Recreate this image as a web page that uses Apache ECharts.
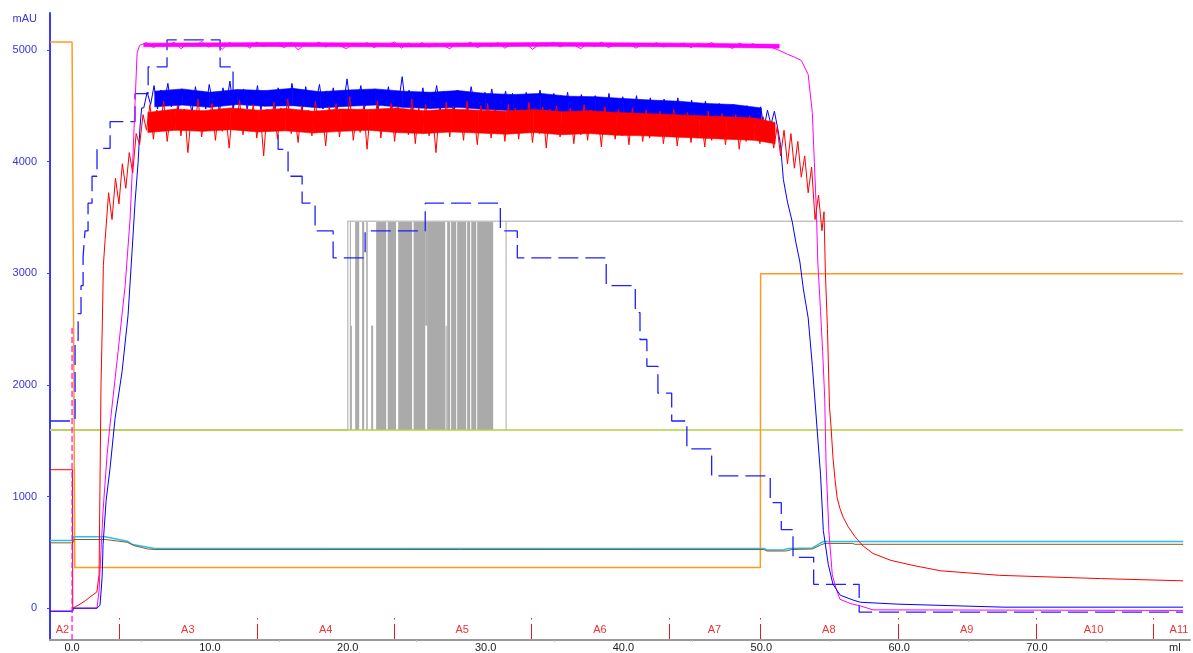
<!DOCTYPE html>
<html>
<head>
<meta charset="utf-8">
<script src="https://cdn.jsdelivr.net/npm/echarts@6.0.0/dist/echarts.min.js"></script>
<style>
html, body { margin: 0; padding: 0; background: #fff; }
#chart { width: 1193px; height: 653px; }
</style>
</head>
<body>
<div id="chart"></div>
<script>
// axis range and tick labels
const X_MIN = -1.6, X_MAX = 81.1
const Y_MIN = -285, Y_MAX = 5330
const xTickValues = [0, 10, 20, 30, 40, 50, 60, 70, 80]
const xMinorTicks = [5, 15, 25, 35, 45, 55, 65, 75]
const yTickValues = [0, 1000, 2000, 3000, 4000, 5000]

// fractions
const fracTicks = [3.41, 13.43, 23.37, 33.3, 43.3, 49.93, 59.94, 69.96, 78.45]
const fracNames = ['A2', 'A3', 'A4', 'A5', 'A6', 'A7', 'A8', 'A9', 'A10', 'A11']
const fracLabelX = [-0.7, 8.4, 18.4, 28.3, 38.3, 46.6, 54.9, 64.9, 74.1, 80.3]
const injectionMark = [[0, Y_MIN], [0, 2530]]

// UV blue (solid): start, noisy plateau (5.2 ml, every 0.25 ml), decline
const blueHead = [[-1.6, -27], [0.05, -27], [0.07, 0], [1.81, 0], [2.03, 27], [2.18, 276], [2.25, 570], [2.47, 962], [2.76, 1257], [3.12, 1700], [3.63, 2120], [4.06, 2620], [4.35, 3190], [4.57, 3636], [4.79, 3990], [4.93, 4310], [5.05, 4480]]
const bluePlateau = [
  4480, 4620, 4510, 4680, 4470, 4640, 4530, 4700, 4490, 4610,
  4460, 4650, 4520, 4590, 4440, 4670, 4500, 4630, 4470, 4690,
  4530, 4600, 4450, 4660, 4510, 4720, 4480, 4620, 4540, 4650,
  4470, 4610, 4500, 4680, 4460, 4630, 4520, 4600, 4440, 4660,
  4510, 4640, 4480, 4700, 4530, 4610, 4460, 4670, 4500, 4620,
  4540, 4690, 4470, 4630, 4510, 4660, 4450, 4610, 4520, 4740,
  4490, 4620, 4530, 4680, 4470, 4600, 4510, 4650, 4460, 4630,
  4500, 4670, 4480, 4610, 4540, 4760, 4490, 4640, 4450, 4620,
  4510, 4660, 4470, 4600, 4520, 4680, 4460, 4630, 4500, 4590,
  4440, 4640, 4490, 4610, 4460, 4670, 4510, 4600, 4450, 4620,
  4480, 4650, 4430, 4590, 4500, 4630, 4460, 4610, 4420, 4580,
  4470, 4620, 4440, 4600, 4490, 4640, 4430, 4570, 4480, 4610,
  4420, 4590, 4460, 4620, 4410, 4580, 4470, 4600, 4430, 4560,
  4400, 4590, 4450, 4570, 4420, 4610, 4380, 4550, 4440, 4580,
  4390, 4560, 4430, 4590, 4370, 4540, 4420, 4570, 4360, 4530,
  4410, 4560, 4350, 4520, 4400, 4570, 4340, 4510, 4390, 4550,
  4330, 4500, 4380, 4540, 4320, 4490, 4370, 4520, 4310, 4480,
  4360, 4510, 4300, 4480, 4350, 4500, 4320, 4470, 4340, 4490,
  4300, 4460, 4330, 4450, 4290
]
const blueTail = [[51.4, 4150], [51.5, 3990], [51.6, 3840], [51.9, 3636], [52.25, 3458], [52.5, 3280], [52.8, 3100], [53.05, 2860], [53.4, 2600], [53.7, 2175], [54.06, 1586], [54.3, 1194], [54.5, 695], [54.86, 392], [55.2, 214], [55.73, 116], [56.7, 71], [57.2, 53], [59.9, 36], [67.6, 9], [80.6, 9]]
// dense core of the blue noise band, every 2 ml
const blueBandX = [6, 8, 10, 12, 14, 16, 18, 20, 22, 24, 26, 28, 30, 32, 34, 36, 38, 40, 42, 44, 46, 48, 50]
const blueBandHi = [4630, 4650, 4620, 4645, 4635, 4655, 4625, 4640, 4650, 4630, 4620, 4635, 4610, 4600, 4610, 4585, 4580, 4565, 4550, 4540, 4520, 4510, 4480]
const blueBandLo = [4490, 4505, 4485, 4510, 4495, 4500, 4480, 4495, 4505, 4485, 4475, 4485, 4465, 4455, 4460, 4440, 4435, 4415, 4405, 4390, 4375, 4365, 4340]

// red: start, noisy part (2.4 ml, every 0.25 ml), tail
const redHead = [[-1.6, 1240], [0.03, 1240], [0.05, 0], [0.5, 30], [1.0, 70], [1.3, 100], [1.8, 145], [1.96, 300], [2.1, 2000], [2.2, 2570], [2.27, 3070]]
const redNoisy = [
  3300, 3720, 3480, 3850, 3620, 3980, 3760, 4080, 3900, 4250,
  4150, 4420, 4280, 4510, 4200, 4460, 4330, 4540, 4180, 4430,
  4290, 4500, 4230, 4470, 4080, 4410, 4310, 4560, 4220, 4450,
  4340, 4520, 4190, 4480, 4270, 4430, 4120, 4490, 4300, 4550,
  4240, 4460, 4330, 4510, 4210, 4440, 4050, 4470, 4290, 4530,
  4200, 4480, 4320, 4560, 4250, 4420, 4170, 4500, 4310, 4460,
  4230, 4540, 4280, 4450, 4140, 4490, 4340, 4520, 4220, 4470,
  4300, 4580, 4190, 4430, 4260, 4500, 4110, 4470, 4320, 4540,
  4210, 4460, 4290, 4520, 4180, 4490, 4330, 4450, 4240, 4560,
  4160, 4480, 4300, 4510, 4230, 4440, 4080, 4470, 4280, 4530,
  4220, 4490, 4310, 4460, 4190, 4540, 4270, 4430, 4150, 4500,
  4290, 4520, 4210, 4470, 4330, 4450, 4180, 4510, 4260, 4480,
  4200, 4460, 4300, 4530, 4170, 4440, 4250, 4490, 4120, 4470,
  4280, 4500, 4220, 4430, 4310, 4480, 4160, 4450, 4240, 4510,
  4190, 4460, 4270, 4420, 4130, 4490, 4260, 4440, 4200, 4470,
  4230, 4430, 4150, 4480, 4270, 4420, 4180, 4460, 4210, 4400,
  4250, 4450, 4160, 4410, 4220, 4470, 4140, 4390, 4230, 4440,
  4170, 4420, 4210, 4380, 4130, 4450, 4190, 4400, 4240, 4430,
  4150, 4390, 4200, 4420, 4110, 4380, 4180, 4410, 4230, 4360,
  4160, 4400, 4190, 4350, 4120, 4310, 4050, 4280, 3980, 4250,
  3940, 4180, 3860, 4050, 3720, 3950, 3480, 3700, 3380
]
const redTail = [[54.55, 3550], [54.65, 3000], [54.8, 2504], [54.95, 1800], [55.05, 1640], [55.2, 1350], [55.35, 1150], [55.5, 990], [55.7, 895], [55.95, 811], [56.3, 730], [56.8, 640], [57.4, 555], [58.1, 490], [59.4, 428], [61.0, 383], [63.0, 335], [67.3, 294], [74.6, 265], [80.6, 245]]
// dense core of the red noise band
const redBandX = [5.5, 7.5, 9.5, 11.5, 13.5, 15.5, 17.5, 19.5, 21.5, 23.5, 25.5, 27.5, 29.5, 31.5, 33.5, 35.5, 37.5, 39.5, 41.5, 43.5, 45.5, 47.5, 49.5, 51]
const redBandHi = [4440, 4470, 4455, 4480, 4460, 4475, 4450, 4470, 4465, 4480, 4455, 4470, 4460, 4450, 4465, 4445, 4455, 4440, 4430, 4420, 4410, 4400, 4390, 4350]
const redBandLo = [4260, 4280, 4270, 4285, 4265, 4275, 4255, 4270, 4280, 4260, 4250, 4265, 4255, 4245, 4260, 4240, 4250, 4235, 4230, 4220, 4210, 4200, 4190, 4160]

// magenta: start, plateau (4.9 ml, every 0.5 ml), decline
const magentaHead = [[-1.6, -27], [0.05, -27], [0.07, 0], [1.81, 0], [1.96, 160], [2.1, 517], [2.25, 873], [2.54, 1372], [2.76, 1650], [3.34, 2300], [3.85, 2888], [4.21, 3485], [4.43, 4082], [4.57, 4528], [4.72, 4973]]
const magentaPlateau = [
  5040, 5065, 5020, 5055, 5030, 5070, 5010, 5060, 5035, 5075,
  5025, 5050, 5005, 5065, 5040, 5060, 5015, 5070, 5030, 5055,
  5045, 5020, 5065, 5000, 5050, 5035, 5070, 5025, 5060, 5040,
  5010, 5055, 5035, 5065, 5020, 5050, 5045, 5070, 5015, 5060,
  5030, 5065, 5025, 5055, 5040, 5010, 5060, 5035, 5070, 5020,
  5050, 5030, 5065, 5015, 5055, 5040, 5060, 5005, 5050, 5035,
  5065, 5025, 5055, 5045, 5010, 5060, 5030, 5070, 5020, 5050,
  5040, 5060, 5015, 5055, 5035, 5065, 5025, 5050, 5045, 5060,
  5020, 5055, 5040, 5065, 5030, 5050, 5010, 5060, 5035, 5055,
  5025, 5045, 5015, 4990, 4960, 4935, 4905, 4780
]
const magentaTail = [[53.7, 4438], [53.85, 3993], [54.0, 3547], [54.1, 3100], [54.3, 2656], [54.45, 2300], [54.6, 1880], [54.7, 1283], [54.9, 695], [55.15, 300], [55.4, 187], [55.7, 80], [56.5, 40], [57.2, 20], [58.1, -15], [80.6, -20]]
const magentaBandX = [5.2, 15, 25, 35, 45, 51.3]
const magentaBandHi = [5060, 5065, 5060, 5066, 5060, 5050]
const magentaBandLo = [5028, 5030, 5025, 5032, 5026, 5015]

// step concentration (dashed): level starts
const dashX = [-1.6, 0.22, 0.44, 0.65, 0.8, 0.94, 1.16, 1.45, 1.81, 2.76, 4.57, 5.52, 6.89, 10.74, 11.68, 14.95, 15.67, 16.69, 17.63, 18.94, 21.26, 25.62, 31.07, 32.3, 38.75, 40.86, 41.2, 41.7, 42.5, 43.5, 44.6, 46.4, 50.65, 51.45, 52.3, 53.8, 57.1, 80.6]
const dashY = [1676, 2398, 2638, 2888, 3146, 3378, 3627, 3868, 4118, 4358, 4608, 4848, 5089, 4848, 4376, 4109, 3868, 3627, 3378, 3137, 3378, 3627, 3378, 3137, 2888, 2647, 2406, 2166, 1925, 1676, 1426, 1185, 945, 704, 455, 214, -36, -36]

const orange = [[-1.6, 5071], [0.0, 5071], [0.05, 4110], [0.15, 4110], [0.2, 365], [49.93, 365], [49.95, 2995], [80.6, 2995]]
const green = [[-1.6, 1595], [80.6, 1595]]
const cyan = [[-1.6, 605], [0.05, 605], [0.1, 640], [2.4, 640], [2.5, 625], [4.0, 600], [4.4, 570], [5.5, 545], [6.0, 535], [50.2, 535], [50.4, 520], [51.5, 520], [52.0, 535], [53.7, 540], [54.2, 575], [54.5, 597], [80.6, 597]]
const brown = [[-1.6, 585], [0.05, 585], [0.15, 615], [2.4, 615], [4.0, 590], [4.5, 560], [5.5, 530], [6.0, 525], [50.2, 525], [50.4, 512], [51.8, 512], [52.2, 525], [53.7, 530], [54.3, 565], [54.6, 580], [56.6, 580], [56.8, 572], [80.6, 572]]

// gray trace: base line and the dense switching region [from, to, low, high]
const grayLine = [[-1.6, 1595], [20.0, 1595], [20.0, 3465], [80.6, 3465]]
const grayBlocks = [
  [20.15, 20.2, 1595, 3465], [20.2, 20.3, 1595, 2530], [20.54, 20.83, 1595, 3465],
  [21.04, 21.19, 1595, 3465], [21.34, 21.45, 1595, 3465], [21.7, 21.84, 1595, 2530],
  [22.06, 22.79, 1595, 3465], [22.9, 23.5, 1595, 3465], [23.66, 24.67, 1595, 3465],
  [24.78, 25.62, 1595, 3465], [25.62, 25.76, 2530, 3465], [25.76, 27.07, 1595, 3465],
  [27.1, 27.18, 1595, 2530], [27.21, 27.43, 1595, 3465], [27.5, 27.87, 1595, 3465],
  [27.94, 28.59, 1595, 3465], [28.66, 28.88, 1595, 3465], [28.96, 29.32, 1595, 3465],
  [29.39, 30.55, 1595, 3465], [31.45, 31.52, 1595, 3465]
]

function sampled(x0, dx, vals) {
  return vals.map((v, i) => [+(x0 + i * dx).toFixed(3), v])
}

const blueData = blueHead.concat(sampled(5.2, 0.25, bluePlateau), blueTail)
const redData = redHead.concat(sampled(2.4, 0.25, redNoisy), redTail)
const magentaData = magentaHead.concat(sampled(4.9, 0.5, magentaPlateau), magentaTail)
const dashData = dashX.map((x, i) => [x, dashY[i]])

const FONT = 'Liberation Sans, Arial, sans-serif'

function lineSeries(name, data, color, width, extra) {
  return Object.assign({
    name: name,
    type: 'line',
    data: data,
    showSymbol: false,
    symbol: 'none',
    silent: true,
    lineStyle: { color: color, width: width }
  }, extra || {})
}

// filled core of a noisy trace, one quad per pair of neighbouring samples
function bandSeries(name, xs, lo, hi, color, z) {
  return {
    name: name,
    type: 'custom',
    silent: true,
    data: xs.map((x, i) => [x, lo[i], hi[i]]),
    encode: { x: 0, y: [1, 2] },
    renderItem: (params, api) => {
      const i = params.dataIndex
      if (i >= xs.length - 1) return null
      const pts = [
        api.coord([xs[i], hi[i]]),
        api.coord([xs[i + 1], hi[i + 1]]),
        api.coord([xs[i + 1], lo[i + 1]]),
        api.coord([xs[i], lo[i]])
      ]
      return {
        type: 'polygon',
        shape: { points: pts },
        style: { fill: color, stroke: color, lineWidth: 0.6 }
      }
    },
    z: z
  }
}

const chart = echarts.init(document.getElementById('chart'), null, { renderer: 'canvas' })

const option = {
  animation: false,
  backgroundColor: '#ffffff',
  grid: { left: 50, right: 3, top: 13, bottom: 10 },
  xAxis: {
    type: 'value',
    min: X_MIN,
    max: X_MAX,
    axisLine: { onZero: false, lineStyle: { color: '#9a9a9a', width: 2 } },
    axisTick: { show: true, customValues: xMinorTicks, length: 2, lineStyle: { color: '#bdbdbd' } },
    axisLabel: {
      customValues: xTickValues,
      margin: 2,
      color: '#222',
      fontSize: 11,
      fontFamily: FONT,
      formatter: v => (v === 80 ? 'ml' : v.toFixed(1))
    },
    splitLine: { show: false }
  },
  yAxis: {
    type: 'value',
    min: Y_MIN,
    max: Y_MAX,
    name: 'mAU',
    nameLocation: 'end',
    nameGap: -6,
    nameTextStyle: { color: '#3535d8', fontSize: 11, fontFamily: FONT, align: 'right', verticalAlign: 'middle', padding: [0, 13, 0, 0] },
    axisLine: { show: true, onZero: false, lineStyle: { color: '#3a3af0', width: 2 } },
    axisTick: { show: true, customValues: yTickValues, length: 3, lineStyle: { color: '#3a3af0' } },
    axisLabel: {
      customValues: yTickValues,
      margin: 13,
      color: '#3535d8',
      fontSize: 11,
      fontFamily: FONT,
      formatter: v => String(v)
    },
    splitLine: { show: false }
  },
  series: [
    {
      name: 'gray blocks',
      type: 'custom',
      silent: true,
      data: grayBlocks,
      encode: { x: [0, 1], y: [2, 3] },
      renderItem: (params, api) => {
        const p0 = api.coord([api.value(0), api.value(3)])
        const p1 = api.coord([api.value(1), api.value(2)])
        return {
          type: 'rect',
          shape: { x: p0[0], y: p0[1], width: Math.max(1, p1[0] - p0[0]), height: p1[1] - p0[1] },
          style: { fill: '#aaaaaa' }
        }
      },
      z: 1
    },
    lineSeries('gray', grayLine, '#c4c4c4', 1.5, { z: 2 }),
    lineSeries('green', green, '#b4d23a', 1.5, { z: 3 }),
    lineSeries('orange', orange, '#ff9a1f', 1.5, { z: 4 }),
    lineSeries('cyan', cyan, '#27c0ee', 1.5, { z: 5 }),
    lineSeries('brown', brown, '#8a5a28', 1, { z: 6 }),
    lineSeries('dashed', dashData, '#2020ff', 1.3, {
      step: 'end',
      lineStyle: { color: '#2020ff', width: 1.3, type: [20, 7] },
      z: 7
    }),
    bandSeries('magenta band', magentaBandX, magentaBandLo, magentaBandHi, '#ff00ff', 8),
    lineSeries('magenta', magentaData, '#ff00ff', 1, { z: 8 }),
    bandSeries('blue band', blueBandX, blueBandLo, blueBandHi, '#0000ff', 9),
    lineSeries('blue', blueData, '#0000ff', 1, { z: 9 }),
    bandSeries('red band', redBandX, redBandLo, redBandHi, '#ff0000', 10),
    lineSeries('red', redData, '#ff0000', 1, { z: 10 }),
    lineSeries('injection', injectionMark, '#ff00ff', 1.2, {
      lineStyle: { color: '#ff00ff', width: 1.2, type: [6, 3] },
      z: 11
    }),
    {
      name: 'fraction ticks',
      type: 'custom',
      silent: true,
      clip: false,
      data: fracTicks.map(x => [x, Y_MIN]),
      encode: { x: 0, y: 1 },
      renderItem: (params, api) => {
        const p = api.coord([api.value(0), api.value(1)])
        const x = Math.round(p[0]) + 0.5
        return {
          type: 'group',
          children: [
            { type: 'line', shape: { x1: x, y1: p[1] - 16, x2: x, y2: p[1] - 1 }, style: { stroke: '#e41e1e', lineWidth: 1 } },
            { type: 'rect', shape: { x: x - 0.5, y: p[1] - 22, width: 1, height: 1.5 }, style: { fill: '#e41e1e' } }
          ]
        }
      },
      z: 12
    },
    {
      name: 'fraction labels',
      type: 'custom',
      silent: true,
      clip: false,
      data: fracLabelX.map(x => [x, Y_MIN]),
      encode: { x: 0, y: 1 },
      renderItem: (params, api) => {
        const p = api.coord([api.value(0), api.value(1)])
        return {
          type: 'text',
          x: p[0],
          y: p[1] - 10,
          style: {
            text: fracNames[params.dataIndex],
            fill: '#f03434',
            font: '11px ' + FONT,
            align: 'center',
            verticalAlign: 'middle'
          }
        }
      },
      z: 12
    }
  ]
}

chart.setOption(option)
</script>
</body>
</html>
